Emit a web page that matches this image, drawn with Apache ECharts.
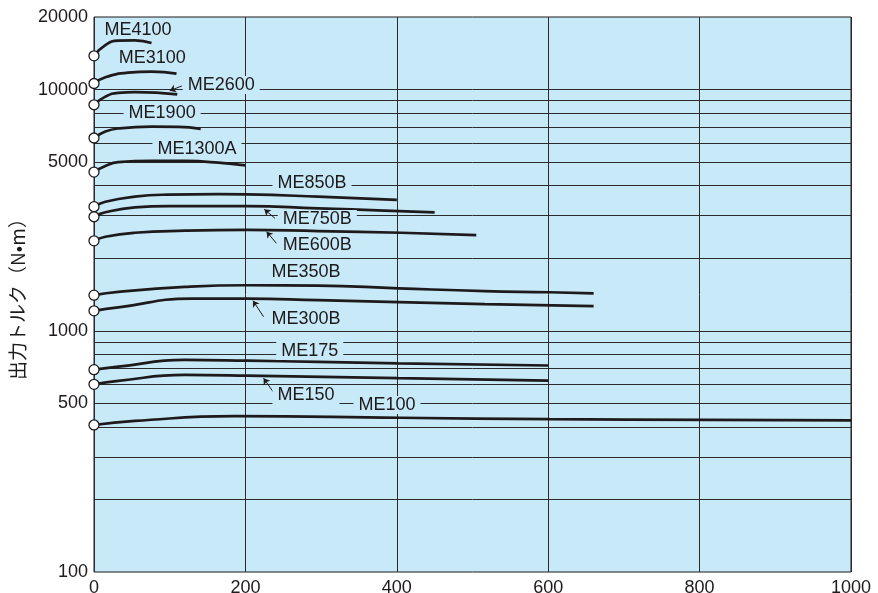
<!DOCTYPE html>
<html><head><meta charset="utf-8">
<script src="https://cdn.jsdelivr.net/npm/echarts@6/dist/echarts.min.js"></script>
<style>html,body{margin:0;padding:0;background:#fff}#c{width:878px;height:593px}</style>
</head><body><div id="c"></div>
<script>
// ---- data (x axis 0..1000, y = output torque N·m, log scale) ----
const me4100  = [[0,13800],[15,15300],[32,15950],[54,16000],[76,15600]];
const me3100  = [[0,10600],[15,11250],[45,11750],[76,11870],[109,11650]];
const me2600  = [[0,8650],[15,9350],[32,9700],[54,9770],[110,9550]];
const me1900  = [[0,6300],[15,6700],[32,6900],[76,7020],[111,7000],[141,6870]];
const me1300a = [[0,4550],[15,4820],[32,5000],[76,5070],[120,5060],[164,4980],[200,4850]];
const me850b  = [[0,3270],[15,3430],[54,3600],[98,3670],[164,3690],[202,3680],[296,3600],[400,3490]];
const me750b  = [[0,2970],[15,3100],[54,3250],[98,3290],[202,3290],[296,3220],[384,3150],[450,3100]];
const me600b  = [[0,2360],[15,2455],[54,2550],[120,2600],[202,2620],[296,2590],[406,2550],[505,2495]];
const me350b  = [[0,1405],[32,1450],[120,1520],[202,1545],[296,1540],[402,1500],[516,1460],[602,1445],[660,1430]];
const me300b  = [[0,1210],[32,1250],[129,1360],[202,1360],[296,1340],[402,1315],[516,1290],[660,1265]];
const me175   = [[0,690],[32,710],[120,757],[202,752],[296,743],[402,733],[600,718]];
const me150   = [[0,600],[32,620],[120,656],[202,652],[402,636],[600,622]];
const me100   = [[0,407],[54,423],[186,443],[404,436],[602,430],[807,427],[1000,425]];

const seriesNames = ['ME4100','ME3100','ME2600','ME1900','ME1300A','ME850B','ME750B','ME600B','ME350B','ME300B','ME175','ME150','ME100'];
const seriesData  = [me4100,me3100,me2600,me1900,me1300a,me850b,me750b,me600b,me350b,me300b,me175,me150,me100];

// label anchor points (data space)
const labelX = [58, 77, 168, 90, 136, 288, 295, 295, 280, 280, 285, 280, 387];
const labelY = [17660, 13520, 10450, 8000, 5670, 4100, 2910, 2270, 1753, 1119, 825, 542, 492];

// leader arrows: [fromX, fromY, toX, toY] in data space
const leaders = [
  [116, 10350, 100, 9895],
  [239, 2927, 225, 3190],
  [241, 2306, 228, 2576],
  [224, 1144, 210, 1333],
  [238, 551, 224, 636]
];

const xTicks = [0,200,400,600,800,1000];
const yLabelValues = [100,500,1000,5000,10000,20000];
const yGridValues = [200,300,400,500,600,700,800,900,1000,2000,3000,4000,5000,6000,7000,8000,9000,10000];

const INK = '#1e1a1b';
const BG = '#c7e9f8';
const FONT = '"Liberation Sans", Arial, sans-serif';

const series = [];
series.push({
  name: 'grid', type: 'line', data: [], z: 1, silent: true,
  markLine: {
    z: 1, silent: true, symbol: ['none','none'], animation: false,
    label: { show: false },
    lineStyle: { color: '#2b2b2b', width: 1, type: 'solid' },
    data: yGridValues.map(v => ({ yAxis: v }))
  }
});
seriesData.forEach((d, i) => {
  series.push({
    name: seriesNames[i], type: 'line', data: d, smooth: 0.5,
    showSymbol: false, symbol: 'none', z: 3, silent: true,
    lineStyle: { color: INK, width: 2.7 }
  });
});
series.push({
  name: 'start', type: 'scatter', z: 6, silent: true,
  data: seriesData.map(d => d[0]),
  symbol: 'circle', symbolSize: 10,
  itemStyle: { color: '#ffffff', borderColor: INK, borderWidth: 1.3, opacity: 1 }
});
series.push({
  name: 'labels', type: 'scatter', z: 4, silent: true,
  symbolSize: 0,
  itemStyle: { opacity: 1 },
  data: seriesNames.map((n, i) => ({ value: [labelX[i], labelY[i]], name: n })),
  label: {
    show: true, position: 'inside', formatter: p => p.name,
    fontFamily: FONT, fontSize: 18, color: INK, opacity: 1,
    backgroundColor: BG, padding: [0, 5]
  },
  markLine: {
    z: 4, silent: true, animation: false,
    symbol: ['none', 'arrow'], symbolSize: 6,
    label: { show: false },
    lineStyle: { color: INK, width: 1, type: 'solid', curveness: 0.5, opacity: 1 },
    data: leaders.map(l => [{ coord: [l[0], l[1]] }, { coord: [l[2], l[3]] }])
  }
});

const chart = echarts.init(document.getElementById('c'));
chart.setOption({
  animation: false,
  backgroundColor: '#ffffff',
  grid: { left: 94, right: 27, top: 17, bottom: 21, show: true, backgroundColor: BG, borderColor: INK, borderWidth: 1,
    containLabel: false, outerBoundsMode: 'none' },
  xAxis: {
    type: 'value', min: 0, max: 1000, interval: 200,
    axisLine: { show: false }, axisTick: { show: false },
    splitLine: { show: true, lineStyle: { color: '#2b2b2b', width: 1 } },
    axisLabel: { fontFamily: '"Liberation Sans Narrow", ' + FONT, fontSize: 18, color: INK, margin: 7,
      customValues: xTicks, formatter: v => String(v) }
  },
  yAxis: {
    type: 'log', logBase: 10, min: 100, max: 20000,
    name: '出力トルク（N•m）', nameLocation: 'middle', nameRotate: 90, nameGap: 62,
    nameTextStyle: { fontFamily: '"Noto Sans CJK JP", ' + FONT, fontSize: 19, color: INK },
    axisLine: { show: false }, axisTick: { show: false },
    splitLine: { show: false },
    axisLabel: { fontFamily: FONT, fontSize: 18, color: INK, margin: 6, customValues: yLabelValues,
      formatter: v => String(Math.round(v)) }
  },
  series: series
});
</script>
</body></html>
